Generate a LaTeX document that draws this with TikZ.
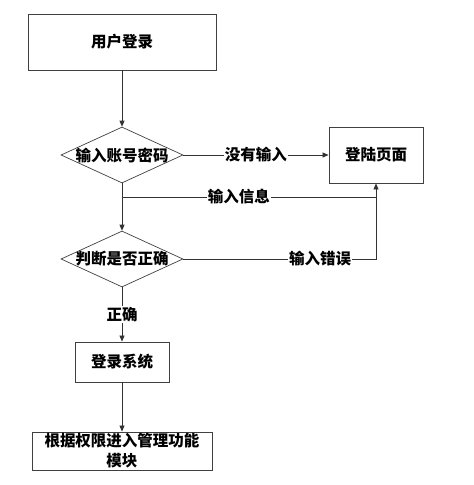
\documentclass[tikz,border=0pt]{standalone}
\usepackage{fontspec}
\newfontfamily\cjk{Noto Sans CJK SC}
\usetikzlibrary{shapes.geometric,arrows.meta}
\begin{document}
\begin{tikzpicture}[x=1pt,y=-1pt,
  every node/.style={font=\cjk\bfseries\fontsize{15.5}{20}\selectfont, text=black},
  box/.style={draw=black!75, line width=0.9pt, fill=white, inner sep=0pt, align=center},
  dia/.style={draw=black!75, line width=0.7pt, diamond, aspect=2.15, inner sep=0pt, minimum width=122pt, minimum height=56pt},
  line/.style={draw=black!80, line width=0.8pt},
  arr/.style={line, -{Triangle[length=6pt,width=5pt]}},
  lbl/.style={fill=white, inner sep=1pt}]
\useasboundingbox (0,0) rectangle (474,485);
\node[box, minimum width=188pt, minimum height=56pt] (u) at (122,42) {用户登录};
\node[dia] (d1) at (122,155) {};
\node at (122,155) {输入账号密码};
\node[box, minimum width=94pt, minimum height=56pt] (p) at (376,155) {登陆页面};
\node[dia] (d2) at (122,259) {};
\node at (122,259) {判断是否正确};
\node[box, minimum width=94pt, minimum height=40pt] (s) at (122,362) {登录系统};
\node[box, minimum width=180pt, minimum height=38pt] (m) at (122,451) {根据权限进入管理功能\\模块};
\coordinate (j) at (122,197);
\coordinate (k) at (376,197);
\coordinate (c) at (376,259);
\draw[arr] (u.south) -- (d1.north);
\draw[arr] (d1.east) -- node[lbl] {没有输入} (p.west);
\draw[arr] (d1.south) -- (d2.north);
\draw[line] (j) -- node[lbl, pos=0.46] {输入信息} (k);
\draw[arr] (d2.east) -- node[lbl, pos=0.71] {输入错误} (c) -- (p.south);
\draw[arr] (d2.south) -- node[lbl, pos=0.5] {正确} (s.north);
\draw[arr] (s.south) -- (m.north);
\end{tikzpicture}
\end{document}
